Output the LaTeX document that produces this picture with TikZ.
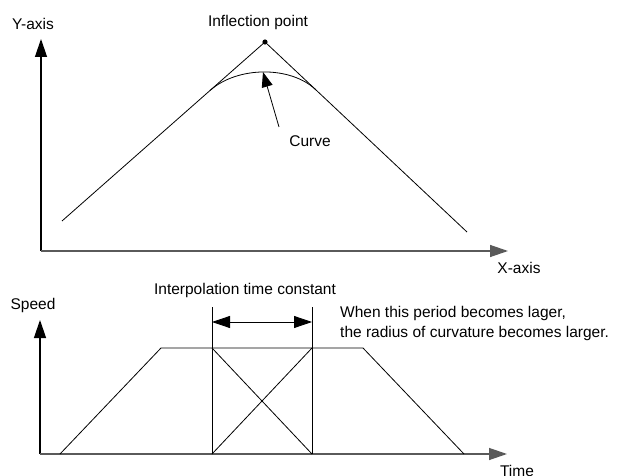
\documentclass[tikz,border=0pt]{standalone}
\usepackage{fontspec}
\setmainfont{Liberation Sans}
\usetikzlibrary{calc,arrows.meta}
\definecolor{xAxisGray}{RGB}{90,90,90}

\tikzset{
    lbl/.style={inner sep=0pt, font=\fontsize{15.5}{20}\selectfont},
    axisLine/.style={xAxisGray, line width=1.3pt,
        -{Triangle[length=18pt,width=12pt]}},
    thinLine/.style={black, line width=0.8pt}
}

\begin{document}
\begin{tikzpicture}[x=1pt,y=1pt]

    % -------------------------------------------------
    % White background, fixes the page size
    % -------------------------------------------------
    \fill[white] (0,0) rectangle (630,475);
    \useasboundingbox (0,0) rectangle (630,475);

    % -------------------------------------------------
    % Upper plot: path in the X-Y plane
    % -------------------------------------------------
    \coordinate (origTop) at (41,224);
    \coordinate (yTip)    at (41,436);
    \coordinate (xTip)    at (508,224);

    \draw[axisLine, black] (origTop) -- (yTip);
    \draw[axisLine] (origTop) -- (xTip);

    \node[lbl] (yLbl) at (33,451) {Y-axis};
    \node[lbl] (xLbl) at (519,207) {X-axis};

    % the two straight segments meeting at the inflection point
    \coordinate (lineStart) at (62,254);
    \coordinate (inflPt)    at (265,433);
    \coordinate (lineEnd)   at (467,243);

    \draw[thinLine, line join=miter]
        (lineStart) -- (inflPt) -- (lineEnd);
    \fill[black] (inflPt) circle (2.6pt);

    \node[lbl] (inflLbl) at (258,453) {Inflection point};

    % -------------------------------------------------
    % Rounded corner, tangent to both segments
    % -------------------------------------------------
    \coordinate (tanL) at ($(inflPt)!0.27!(lineStart)$);
    \coordinate (tanR) at ($(inflPt)!0.25!(lineEnd)$);

    \draw[thinLine]
        (tanL) .. controls ($(tanL)!0.5!(inflPt)$)
                and ($(tanR)!0.5!(inflPt)$) .. (tanR);

    \coordinate (curveTop)  at (263,403);
    \coordinate (curveTail) at (279,348);

    \draw[thinLine, -{Triangle[length=15pt,width=11pt]}]
        (curveTail) -- (curveTop);

    \node[lbl] (curveLbl) at (310,334) {Curve};

    % -------------------------------------------------
    % Lower plot: speed over time
    % -------------------------------------------------
    \coordinate (origBot)   at (40,21);
    \coordinate (speedTip)  at (40,155);
    \coordinate (timeTip)   at (507,21);

    \draw[axisLine, black] (origBot) -- (speedTip);
    \draw[axisLine] (origBot) -- (timeTip);

    \node[lbl] (speedLbl) at (33,170) {Speed};
    \node[lbl, anchor=north] (timeLbl) at (517,10) {Time};

    % trapezoid speed profile
    \draw[thinLine, line join=miter]
        (60,21) --
        (161,127) --
        (363,127) --
        (464,21);

    % -------------------------------------------------
    % Interpolation time constant window
    % -------------------------------------------------
    \coordinate (winL) at (212,21);
    \coordinate (winR) at (312,21);
    \coordinate (winLTop) at (212,168);
    \coordinate (winRTop) at (312,168);

    \draw[thinLine] (winL) -- (winLTop);
    \draw[thinLine] (winR) -- (winRTop);
    \draw[thinLine] (212,127) -- (winR);
    \draw[thinLine] (winL) -- (312,127);

    \draw[
        thinLine,
        {Triangle[length=18pt,width=12pt]}-{Triangle[length=18pt,width=12pt]}
    ]
        (212,153) -- (312,153);

    \node[lbl] (tcLbl) at (245,185) {Interpolation time constant};

    \node[lbl, anchor=west, align=left] (noteLbl) at (340,152)
        {When this period becomes lager,\\
         the radius of curvature becomes larger.};

\end{tikzpicture}
\end{document}
